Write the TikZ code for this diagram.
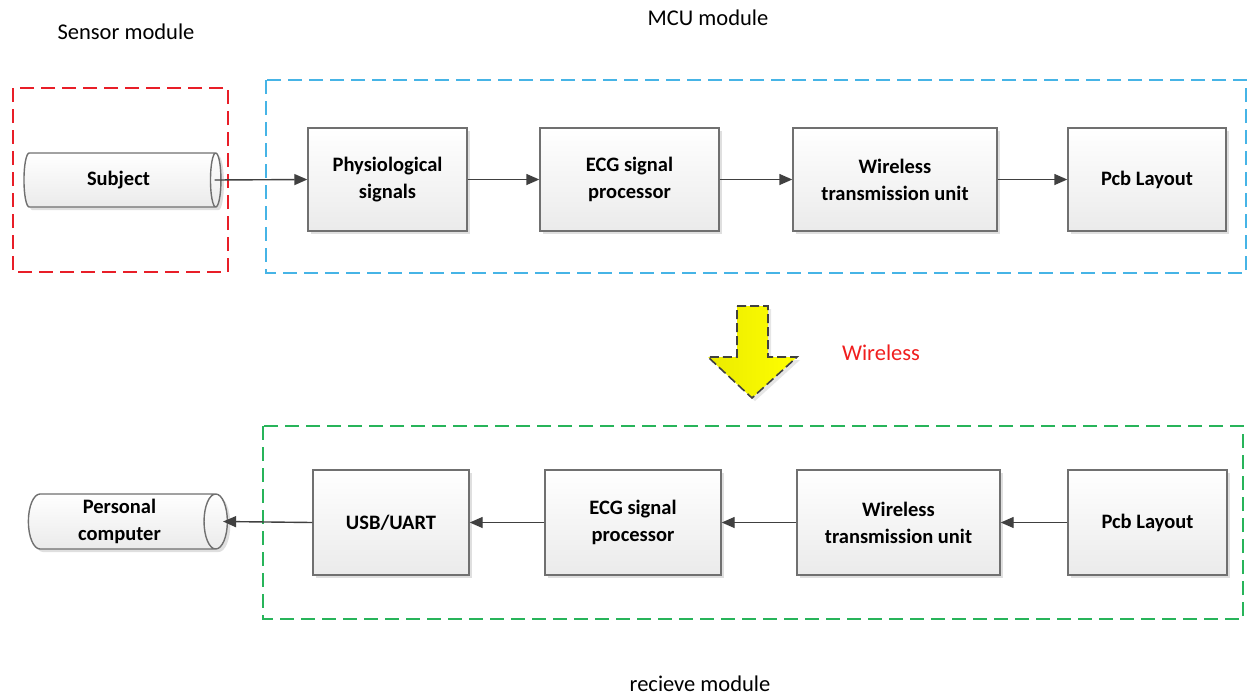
\documentclass[tikz,border=0pt]{standalone}
\usepackage{fontspec}
\setmainfont{Carlito}
\usepackage{tikz}
\usetikzlibrary{shapes.geometric,arrows.meta,shadows}
\definecolor{boxline}{RGB}{112,112,112}
\definecolor{arrline}{RGB}{64,64,64}
\definecolor{sensred}{RGB}{232,30,40}
\definecolor{mcublue}{RGB}{70,180,230}
\definecolor{recgreen}{RGB}{40,180,90}
\definecolor{wlred}{RGB}{240,30,30}

\begin{document}
\begin{tikzpicture}[x=1pt,y=-1pt,
  font=\fontsize{22.5}{27}\selectfont,
  blk/.style={draw=boxline,line width=1.4pt,top color=white,bottom color=black!8,
    align=center,font=\fontsize{20.5}{27}\selectfont\bfseries,inner sep=2pt,
    drop shadow={shadow xshift=3pt,shadow yshift=-3pt,opacity=0.25}},
  cyl/.style={cylinder,shape aspect=0.48,draw=boxline,line width=1.4pt,
    top color=white,bottom color=black!8,align=center,
    font=\fontsize{20.5}{27}\selectfont\bfseries,inner sep=2pt,
    drop shadow={shadow xshift=3pt,shadow yshift=-3pt,opacity=0.25}},
  grp/.style={dash pattern=on 14pt off 7pt,line width=2pt},
  arr/.style={-{Triangle[length=13pt,width=11pt]},line width=1.4pt,arrline}]
\useasboundingbox (0,0) rectangle (1251,697);

% module frames
\draw[grp,sensred] (13,88) rectangle (228,272);
\draw[grp,mcublue] (266,80) rectangle (1246,273);
\draw[grp,recgreen] (263,426) rectangle (1243,619);

\node (lsens) at (126,32) {Sensor module};
\node (lmcu) at (708,18) {MCU module};
\node (lrec) at (700,684) {recieve module};

% upper chain
\node[cyl,minimum height=197pt,minimum width=54pt] (subj) at (118.5,180) {Subject};
\node[blk,minimum width=159pt,minimum height=103pt] (phys) at (387.5,179.5) {Physiological\\signals};
\node[blk,minimum width=179pt,minimum height=103pt] (ecg1) at (629.5,179.5) {ECG signal\\processor};
\node[blk,minimum width=204pt,minimum height=103pt] (wtu1) at (895,179.5) {Wireless\\transmission unit};
\node[blk,minimum width=158pt,minimum height=103pt] (pcb1) at (1147,179.5) {Pcb Layout};

\draw[arr] ([xshift=-7pt]subj.east) -- (phys.west);
\draw[arr] (phys.east) -- (ecg1.west);
\draw[arr] (ecg1.east) -- (wtu1.west);
\draw[arr] (wtu1.east) -- (pcb1.west);

% wireless link
\draw[dash pattern=on 9pt off 4pt,line width=1.6pt,black!75,left color=yellow!92!black,right color=yellow,
  drop shadow={shadow xshift=3pt,shadow yshift=-3pt,opacity=0.2}]
  (737,306) -- (768,306) -- (768,357) -- (797,357) -- (752,398) -- (708,357) -- (737,357) -- cycle;
\node[text=wlred] (lwl) at (881,353) {Wireless};

% lower chain
\node[cyl,minimum height=199pt,minimum width=55pt] (pc) at (119.5,521.5) {Personal\\computer};
\node[blk,minimum width=156pt,minimum height=105pt] (usb) at (391,522.5) {USB/UART};
\node[blk,minimum width=176pt,minimum height=105pt] (ecg2) at (633,522.5) {ECG signal\\processor};
\node[blk,minimum width=203pt,minimum height=105pt] (wtu2) at (898.5,522.5) {Wireless\\transmission unit};
\node[blk,minimum width=159pt,minimum height=105pt] (pcb2) at (1147.5,522.5) {Pcb Layout};

\draw[arr] (pcb2.west) -- (wtu2.east);
\draw[arr] (wtu2.west) -- (ecg2.east);
\draw[arr] (ecg2.west) -- (usb.east);
\draw[arr] (usb.west) -- ([xshift=-5pt]pc.east);
\end{tikzpicture}
\end{document}
